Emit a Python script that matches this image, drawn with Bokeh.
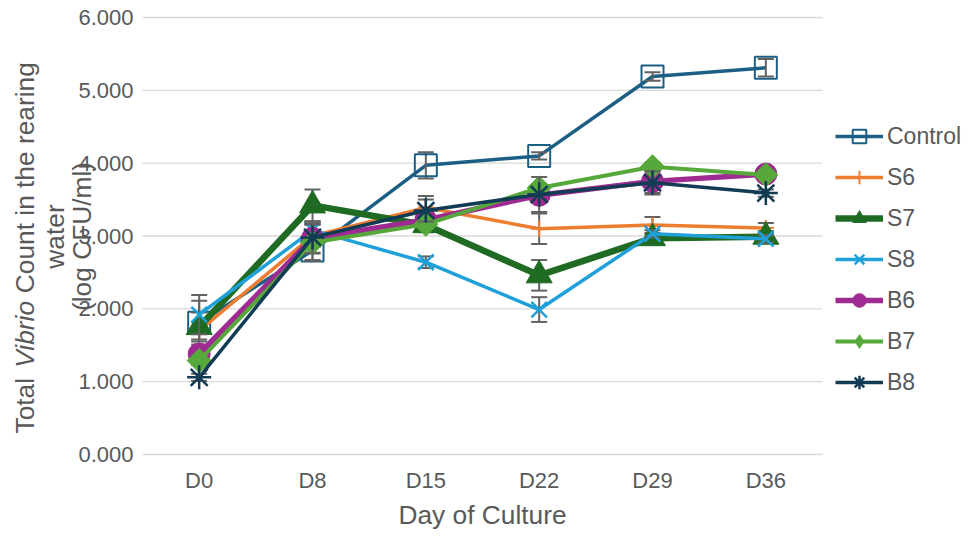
import numpy as np
from bokeh.plotting import figure
from bokeh.models import (Legend, LegendItem, Label, Range1d,
                          NumeralTickFormatter, FixedTicker)
from bokeh.embed import file_html
from bokeh.resources import INLINE

# ---------------- data ----------------
days = ["D0", "D8", "D15", "D22", "D29", "D36"]
y_ticks = [0, 1, 2, 3, 4, 5, 6]

control = [1.81, 2.80, 3.97, 4.10, 5.19, 5.31]
s6 = [1.70, 3.00, 3.39, 3.10, 3.15, 3.11]
s7 = [1.75, 3.42, 3.15, 2.46, 2.97, 2.99]
s8 = [1.92, 3.08, 2.64, 1.99, 3.03, 2.96]
b6 = [1.38, 2.97, 3.22, 3.56, 3.75, 3.85]
b7 = [1.29, 2.91, 3.16, 3.66, 3.95, 3.84]
b8 = [1.06, 2.98, 3.35, 3.57, 3.73, 3.59]

control_err = [0.30, 0.13, 0.18, 0.05, 0.06, 0.12]
s6_err = [0.12, 0.15, 0.16, 0.21, 0.11, 0.07]
s7_err = [0.20, 0.22, 0.10, 0.21, 0.05, 0.08]
s8_err = [0.27, 0.12, 0.08, 0.17, 0.05, 0.05]
b6_err = [0.10, 0.20, 0.10, 0.08, 0.16, 0.05]
b7_err = [0.06, 0.25, 0.06, 0.05, 0.06, 0.05]
b8_err = [0.05, 0.22, 0.15, 0.24, 0.16, 0.05]

series = [
    ("Control", control, control_err),
    ("S6", s6, s6_err),
    ("S7", s7, s7_err),
    ("S8", s8, s8_err),
    ("B6", b6, b6_err),
    ("B7", b7, b7_err),
    ("B8", b8, b8_err),
]

# ---------------- styles ----------------
styles = {
    "Control": dict(color="#1c5f84", lw=3.5, marker="square", size=22, fill=None, mlw=2, angle=0),
    "S6": dict(color="#ed7d31", lw=3.5, marker="cross", size=16, fill=None, mlw=2, angle=0),
    "S7": dict(color="#1f6b24", lw=6.5, marker="triangle", size=26, fill="#1f6b24", mlw=1, angle=0),
    "S8": dict(color="#1fa0d8", lw=3.5, marker="x", size=22, fill=None, mlw=2.5, angle=0),
    "B6": dict(color="#9e2b92", lw=5.5, marker="circle", size=22, fill="#9e2b92", mlw=1, angle=0),
    "B7": dict(color="#57a83a", lw=4, marker="square", size=17, fill="#57a83a", mlw=1, angle=np.pi / 4),
    "B8": dict(color="#123b54", lw=3.5, marker="asterisk", size=24, fill=None, mlw=2.5, angle=0),
}
legend_marker = {"B7": "diamond"}
err_color = "#626262"
grid_color = "#d9d9d9"
text_color = "#595959"
font = "Liberation Sans"

# canvas / plot-area geometry (pixels)
W, H = 964, 529
A_LEFT, A_RIGHT, A_TOP, A_BOTTOM = 142, 822, 17, 454
n = len(days)
px_x = (A_RIGHT - A_LEFT) / n
px_y = (A_BOTTOM - A_TOP) / (y_ticks[-1] - y_ticks[0])
x_start = -0.5 - A_LEFT / px_x
x_end = n - 0.5 + (W - A_RIGHT) / px_x
y_start = y_ticks[0] - (H - A_BOTTOM) / px_y
y_end = y_ticks[-1] + A_TOP / px_y

xs = list(range(n))

p = figure(width=W, height=H, x_range=Range1d(x_start, x_end), y_range=Range1d(y_start, y_end),
           output_backend="svg", toolbar_location=None,
           min_border_left=0, min_border_right=0, min_border_top=0, min_border_bottom=0)
p.title.visible = False
p.outline_line_color = None
p.background_fill_color = "white"
p.border_fill_color = "white"
p.xgrid.visible = False
p.ygrid.visible = False

p.xaxis.fixed_location = y_ticks[0]
p.yaxis.fixed_location = -0.5
p.xaxis.ticker = FixedTicker(ticks=xs)
p.xaxis.major_label_overrides = {i: d for i, d in enumerate(days)}
p.yaxis.ticker = FixedTicker(ticks=y_ticks)
p.yaxis.formatter = NumeralTickFormatter(format="0.000")
for ax in (p.xaxis[0], p.yaxis[0]):
    ax.axis_line_color = None
    ax.major_tick_line_color = None
    ax.minor_tick_line_color = None
    ax.major_label_text_font = font
    ax.major_label_text_font_size = "22px"
    ax.major_label_text_color = text_color
p.yaxis.major_label_standoff = 3
p.xaxis.major_label_standoff = 7

# horizontal gridlines across the plot area
p.segment(x0=[-0.5] * len(y_ticks), y0=y_ticks, x1=[n - 0.5] * len(y_ticks), y1=y_ticks,
          line_color=grid_color, line_width=1.3)

items = []
for name, vals, errs in series:
    st = styles[name]
    lo = [v - e for v, e in zip(vals, errs)]
    hi = [v + e for v, e in zip(vals, errs)]
    lr = p.line(xs, vals, line_color=st["color"], line_width=st["lw"], line_join="round")
    p.segment(x0=xs, y0=lo, x1=xs, y1=hi, line_color=err_color, line_width=2)
    p.scatter(xs, lo, marker="dash", size=16, line_color=err_color, line_width=2)
    p.scatter(xs, hi, marker="dash", size=16, line_color=err_color, line_width=2)
    legend_r = None
    if name in legend_marker:
        # marker used for the legend (legend glyphs ignore rotation);
        # drawn first so it is hidden beneath the rotated square in the plot
        legend_r = p.scatter(xs, vals, marker=legend_marker[name], size=st["size"],
                             line_color=st["color"], fill_color=st["fill"])
    mr = p.scatter(xs, vals, marker=st["marker"], size=st["size"], angle=st["angle"],
                   line_color=st["color"], line_width=st["mlw"],
                   fill_color=st["fill"] if st["fill"] else None)
    items.append(LegendItem(label=name, renderers=[lr, legend_r if legend_r is not None else mr]))

legend = Legend(items=items, location=(835, 130), border_line_color=None,
                background_fill_alpha=0, padding=0, margin=0, glyph_width=48,
                glyph_height=34, label_height=34, spacing=7, label_standoff=4,
                label_text_font=font, label_text_font_size="23px",
                label_text_color=text_color)
p.add_layout(legend)

def ydata(img_y):
    return y_end - img_y / px_y
def xdata(img_x):
    return x_start + img_x / px_x

fs = 26.3

# x axis title
p.add_layout(Label(x=(n - 1) / 2, y=ydata(514), text="Day of Culture",
                   text_align="center", text_baseline="middle", text_font=font,
                   text_font_size=f"{fs}px", text_color=text_color))

# y axis title (three lines, "Vibrio" in italics)
start = 433
w_total = (2.223 + 0.278) * fs
w_vibrio = (2.556 + 0.278) * fs
pieces = [("Total", start, "normal"),
          ("Vibrio", start - w_total, "italic"),
          ("Count in the rearing", start - w_total - w_vibrio, "normal")]
for txt, yimg, style in pieces:
    p.add_layout(Label(x=xdata(24), y=ydata(yimg), text=txt, angle=np.pi / 2,
                       text_align="left", text_baseline="middle", text_font=font,
                       text_font_size=f"{fs}px", text_font_style=style,
                       text_color=text_color))
p.add_layout(Label(x=xdata(54), y=ydata(236), text="water", angle=np.pi / 2,
                   text_align="center", text_baseline="middle", text_font=font,
                   text_font_size=f"{fs}px", text_color=text_color))
p.add_layout(Label(x=xdata(81), y=ydata(236), text="(log CFU/ml)", angle=np.pi / 2,
                   text_align="center", text_baseline="middle", text_font=font,
                   text_font_size=f"{fs}px", text_color=text_color))

open("out.html", "w").write(file_html(p, INLINE))
